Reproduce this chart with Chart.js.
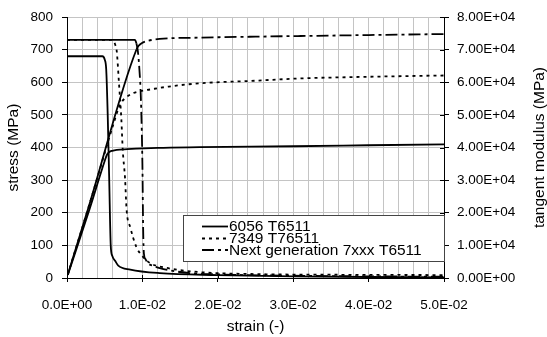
<!DOCTYPE html>
<html>
<head>
<meta charset="utf-8">
<script src="https://cdn.jsdelivr.net/npm/chart.js@4"></script>
<style>
  body { margin: 0; background: #fff; }
  #wrap { width: 547px; height: 337px; position: relative; }
</style>
</head>
<body>
<div id="wrap"><canvas id="chart"></canvas></div>
<script>
// series names
const names = ['6056 T6511', '7349 T76511', 'Next generation 7xxx T6511'];

// stress-strain curves (left axis, MPa)
const strain6056 = [0.0001, 0.003, 0.005, 0.0053, 0.0056, 0.006, 0.0066, 0.008, 0.012, 0.0176, 0.03, 0.04, 0.05];
const stress6056 = [9, 212, 359, 378, 386, 390, 393, 395, 399, 401, 404, 407, 410];

const strain7349 = [0.0001, 0.003, 0.0064, 0.0068, 0.0072, 0.0078, 0.0086, 0.0097, 0.011, 0.0135, 0.0176, 0.025, 0.031, 0.04, 0.05];
const stress7349 = [10, 228, 490, 518, 538, 553, 565, 573, 578, 587, 597, 605, 612, 617, 621];

const strainNext = [0.0001, 0.003, 0.0092, 0.0095, 0.0099, 0.0107, 0.0123, 0.0176, 0.025, 0.031, 0.04, 0.05];
const stressNext = [10, 228, 700, 712, 720, 727, 733, 737, 740, 742, 745, 748];

// tangent modulus curves (right axis, MPa)
const tStrain6056 = [0, 0.0047, 0.005, 0.0052, 0.0054, 0.0056, 0.0058, 0.006, 0.0064, 0.0068, 0.0084, 0.0123, 0.02, 0.03, 0.04, 0.05];
const tangent6056 = [68000, 68000, 67000, 64000, 50000, 30000, 10000, 6800, 5200, 3800, 2600, 1500, 900, 500, 300, 200];

const tStrain7349 = [0, 0.0059, 0.0062, 0.0064, 0.0066, 0.0069, 0.0072, 0.0074, 0.0077, 0.0079, 0.0084, 0.0092, 0.0099, 0.011, 0.0132, 0.0176, 0.025, 0.035, 0.05];
const tangent7349 = [73000, 73000, 72500, 71500, 69500, 59500, 49000, 39000, 30500, 21000, 15500, 9500, 7000, 4600, 3100, 1800, 1200, 1000, 900];

const tStrainNext = [0, 0.009, 0.0092, 0.0094, 0.0096, 0.0098, 0.01, 0.0101, 0.0102, 0.0104, 0.0107, 0.0115, 0.0123, 0.0163, 0.02, 0.03, 0.04, 0.05];
const tangentNext = [73000, 73000, 72000, 69500, 64000, 55000, 35000, 15000, 7500, 5800, 4600, 3700, 3000, 1500, 1100, 700, 500, 400];

const xTitle = 'strain (-)';
const yTitle = 'stress (MPa)';
const y1Title = 'tangent modulus (MPa)';

const dashes = [[], [3, 4], [12, 4, 3, 4]];
const FONT = '"Liberation Sans", Arial, sans-serif';

function sci(v, digits) {
  if (Math.abs(v) < 1e-12) return (0).toFixed(digits) + 'E+00';
  const e = Math.floor(Math.log10(Math.abs(v)) + 1e-9);
  const m = v / Math.pow(10, e);
  return m.toFixed(digits) + 'E' + (e < 0 ? '-' : '+') + String(Math.abs(e)).padStart(2, '0');
}

function isMajorX(v) {
  return Math.abs(v / 0.01 - Math.round(v / 0.01)) < 1e-6;
}

function pts(xs, ys) {
  return xs.map((x, i) => ({ x: x, y: ys[i] }));
}

function line(label, data, axis, i) {
  return {
    label: label,
    data: data,
    yAxisID: axis,
    borderColor: '#000',
    borderWidth: 1.8,
    borderDash: dashes[i],
    pointRadius: 0,
    fill: false,
    cubicInterpolationMode: 'monotone',
    // dense early part of the next generation curve looks solid
    segment: i === 2 ? { borderDash: c => (c.p1.parsed.x <= 0.0093 ? [] : undefined) } : undefined
  };
}

const extras = {
  id: 'extras',
  afterDraw(chart) {
    const ctx = chart.ctx;
    const area = chart.chartArea;
    const xs = chart.scales.x;
    const y1 = chart.scales.y1;

    ctx.save();
    ctx.strokeStyle = '#000';
    ctx.lineWidth = 1;
    // inner halves of the crossing ticks
    ctx.beginPath();
    for (let v = 0; v <= 0.05 + 1e-9; v += 0.01) {
      const px = Math.round(xs.getPixelForValue(v)) + 0.5;
      ctx.moveTo(px, area.bottom - 3);
      ctx.lineTo(px, area.bottom);
    }
    for (let v = 0; v <= 80000; v += 10000) {
      const py = Math.round(y1.getPixelForValue(v)) + 0.5;
      ctx.moveTo(area.right - 4, py);
      ctx.lineTo(area.right, py);
    }
    ctx.stroke();

    // right axis title, reading bottom to top
    ctx.save();
    ctx.font = '15.5px ' + FONT;
    ctx.fillStyle = '#000';
    ctx.textAlign = 'center';
    ctx.textBaseline = 'middle';
    ctx.translate(540, (area.top + area.bottom) / 2);
    ctx.rotate(-Math.PI / 2);
    ctx.fillText(y1Title, 0, 0);
    ctx.restore();

    // legend box
    ctx.fillStyle = '#fff';
    ctx.fillRect(183.5, 215.5, 261, 46);
    ctx.strokeStyle = '#444';
    ctx.strokeRect(183.5, 215.5, 261, 46);
    const rows = [226.5, 238.5, 250];
    names.forEach((n, i) => {
      ctx.beginPath();
      ctx.setLineDash(dashes[i]);
      ctx.lineWidth = 1.8;
      ctx.strokeStyle = '#000';
      ctx.moveTo(202, rows[i]);
      ctx.lineTo(228, rows[i]);
      ctx.stroke();
      ctx.setLineDash([]);
      ctx.fillStyle = '#000';
      ctx.font = '15.5px ' + FONT;
      ctx.textAlign = 'left';
      ctx.textBaseline = 'middle';
      ctx.fillText(n, 229, rows[i] + 0.5);
    });
    ctx.restore();
  }
};

new Chart(document.getElementById('chart'), {
  type: 'line',
  data: {
    datasets: [
      line(names[0], pts(strain6056, stress6056), 'y', 0),
      line(names[1], pts(strain7349, stress7349), 'y', 1),
      line(names[2], pts(strainNext, stressNext), 'y', 2),
      line(names[0], pts(tStrain6056, tangent6056), 'y1', 0),
      line(names[1], pts(tStrain7349, tangent7349), 'y1', 1),
      line(names[2], pts(tStrainNext, tangentNext), 'y1', 2)
    ]
  },
  options: {
    animation: false,
    responsive: true,
    maintainAspectRatio: false,
    layout: { padding: { top: 16, left: 0, right: 0, bottom: 0 } },
    plugins: { legend: { display: false }, tooltip: { enabled: false } },
    scales: {
      x: {
        type: 'linear',
        min: 0,
        max: 0.05,
        afterFit: s => { s.height = 59; },
        border: { color: '#000', width: 1 },
        grid: {
          color: '#c4c4c4',
          tickLength: 4,
          tickColor: c => (c.tick && isMajorX(c.tick.value) ? '#000' : 'rgba(0,0,0,0)')
        },
        ticks: {
          stepSize: 0.002,
          autoSkip: false,
          maxRotation: 0,
          padding: 15,
          color: '#000',
          font: { family: FONT, size: 13.5 },
          callback: v => (isMajorX(v) ? sci(v, 1) : '')
        },
        title: { display: true, text: xTitle, color: '#000', font: { family: FONT, size: 15.5 }, padding: { top: 0, bottom: 1 } }
      },
      y: {
        position: 'left',
        min: 0,
        max: 800,
        afterFit: s => { s.width = 67; },
        border: { color: '#000', width: 1 },
        grid: { color: '#c4c4c4', tickLength: 5, tickColor: '#000' },
        ticks: { stepSize: 100, padding: 9, color: '#000', font: { family: FONT, size: 13.5 } },
        title: { display: true, text: yTitle, color: '#000', font: { family: FONT, size: 15.5 }, padding: { top: 4, bottom: 0 } }
      },
      y1: {
        position: 'right',
        min: 0,
        max: 80000,
        afterFit: s => { s.width = 103; },
        border: { color: '#000', width: 1 },
        grid: { drawOnChartArea: false, tickLength: 5, tickColor: '#000' },
        ticks: { stepSize: 10000, padding: 8, color: '#000', font: { family: FONT, size: 13.5 }, callback: v => sci(v, 2) }
      }
    }
  },
  plugins: [extras]
});
</script>
</body>
</html>
